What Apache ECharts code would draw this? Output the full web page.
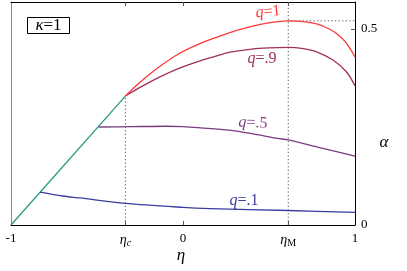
<!DOCTYPE html>
<html><head><meta charset="utf-8">
<script src="https://cdn.jsdelivr.net/npm/echarts@6/dist/echarts.min.js"></script>
<style>html,body{margin:0;padding:0;background:#fff}#c{width:407px;height:271px}</style>
</head><body><div id="c"></div>
<script>
const etaC = -0.335;
const etaM = 0.612;
const alphaMax = 0.521;
const xTickVals = [-1, etaC, 0, etaM, 1];
const xTickLabels = ['-1', '{e|η}{s|c}', '0', '{e|η}{m|M}', '1'];
const yTickVals = [0, 0.5];
const yTickLabels = ['0', '0.5'];

const greenEta = [-1, etaC];
const greenAlpha = [0, 0.329];
const q1Eta = [-0.335, -0.25, -0.134, -0.017, 0.099, 0.215, 0.273, 0.35, 0.45, 0.55, 0.612, 0.7, 0.777, 0.85, 0.9, 0.95, 1];
const q1Alpha = [0.329, 0.364, 0.405, 0.439, 0.463, 0.482, 0.491, 0.501, 0.512, 0.519, 0.521, 0.519, 0.513, 0.500, 0.486, 0.464, 0.429];
const q9Eta = [-0.335, -0.25, -0.134, -0.017, 0.099, 0.215, 0.273, 0.4, 0.5, 0.612, 0.7, 0.777, 0.872, 0.95, 1];
const q9Alpha = [0.329, 0.351, 0.378, 0.401, 0.419, 0.434, 0.441, 0.449, 0.452, 0.453, 0.450, 0.442, 0.421, 0.391, 0.355];
const q5Eta = [-0.49, -0.3, -0.1, 0, 0.1, 0.27, 0.4, 0.55, 0.612, 0.8, 1];
const q5Alpha = [0.250, 0.251, 0.252, 0.251, 0.248, 0.242, 0.233, 0.221, 0.217, 0.197, 0.176];
const q01Eta = [-0.831, -0.7, -0.6, -0.335, 0, 0.157, 0.612, 1];
const q01Alpha = [0.084, 0.074, 0.069, 0.055, 0.045, 0.042, 0.037, 0.032];

const zip = (a, b) => a.map((v, i) => [v, b[i]]);
const serif = 'Liberation Serif';

const chart = echarts.init(document.getElementById('c'), null, {renderer: 'canvas'});
const lineS = (data, color, w) => ({type: 'line', data, smooth: 0.3, symbol: 'none',
  lineStyle: {color, width: w || 1.3}, xAxisIndex: 0, yAxisIndex: 0, animation: false});
const dotS = (data) => ({type: 'line', data, symbol: 'none',
  lineStyle: {color: '#555', width: 1, type: [1.2, 2.4]}, animation: false});
const qLabel = (txt, color) => ({text: '{i|q}{n|' + txt + '}', align: 'center', verticalAlign: 'middle',
  rich: {i: {fontFamily: serif, fontStyle: 'italic', fontSize: 16, fill: color},
         n: {fontFamily: serif, fontSize: 16, fill: color}}});

chart.setOption({
  animation: false,
  grid: {left: 11, right: 52, top: 2, bottom: 46, show: false},
  xAxis: [
    {type: 'value', min: -1, max: 1, position: 'bottom',
     axisLine: {show: true, onZero: false, lineStyle: {color: '#000', width: 1}},
     axisTick: {show: true, inside: true, length: 4, customValues: [etaC, 0, etaM], lineStyle: {color: '#555'}},
     splitLine: {show: false},
     axisLabel: {show: true, customValues: xTickVals, margin: 7, color: '#000',
       fontFamily: serif, fontSize: 13,
       formatter: (v) => { const i = xTickVals.findIndex(t => Math.abs(t - v) < 1e-6); return i >= 0 ? xTickLabels[i] : ''; },
       rich: {e: {fontFamily: serif, fontStyle: 'italic', fontSize: 14, color: '#000'},
              s: {fontFamily: serif, fontStyle: 'italic', fontSize: 10, color: '#000', padding: [6, 0, 0, 0]},
              m: {fontFamily: serif, fontSize: 10, color: '#000', padding: [6, 0, 0, 0]}}}},
    {type: 'value', min: -1, max: 1, position: 'top',
     axisLine: {show: true, onZero: false, lineStyle: {color: '#000', width: 1}},
     axisTick: {show: true, inside: true, length: 4, customValues: [etaC, 0, etaM], lineStyle: {color: '#555'}},
     splitLine: {show: false}, axisLabel: {show: false}}
  ],
  yAxis: [
    {type: 'value', min: 0, max: 0.569, position: 'right',
     axisLine: {show: true, onZero: false, lineStyle: {color: '#000', width: 1}},
     axisTick: {show: true, inside: true, length: 4, customValues: [0.5], lineStyle: {color: '#555'}},
     splitLine: {show: false},
     axisLabel: {show: true, customValues: yTickVals, margin: 6, color: '#000', fontFamily: serif, fontSize: 13,
       formatter: (v) => { const i = yTickVals.findIndex(t => Math.abs(t - v) < 1e-6); return i >= 0 ? yTickLabels[i] : ''; }}},
    {type: 'value', min: 0, max: 0.569, position: 'left',
     axisLine: {show: true, onZero: false, lineStyle: {color: '#888', width: 1}},
     axisTick: {show: false}, splitLine: {show: false}, axisLabel: {show: false}}
  ],
  series: [
    dotS([[etaC, 0], [etaC, greenAlpha[1]]]),
    dotS([[etaM, 0], [etaM, 0.569]]),
    dotS([[etaM, alphaMax], [1, alphaMax]]),
    lineS(zip(greenEta, greenAlpha), '#2a9a78'),
    lineS(zip(q01Eta, q01Alpha), '#3c3ca0'),
    lineS(zip(q5Eta, q5Alpha), '#7b3a80'),
    lineS(zip(q9Eta, q9Alpha), '#a03060'),
    lineS(zip(q1Eta, q1Alpha), '#ff3838')
  ],
  graphic: [
    {type: 'rect', shape: {x: 27.5, y: 17.5, width: 42, height: 16}, style: {fill: '#fff', stroke: '#000', lineWidth: 1}},
    {type: 'text', x: 48.5, y: 25.5, style: {text: '{i|κ}{n|=1}', align: 'center', verticalAlign: 'middle',
      rich: {i: {fontFamily: serif, fontStyle: 'italic', fontSize: 17, fill: '#000'}, n: {fontFamily: serif, fontSize: 17, fill: '#000'}}}},
    {type: 'text', x: 268, y: 12, rotation: 0.09, style: qLabel('=1', '#ff3838')},
    {type: 'text', x: 262, y: 59, style: qLabel('=.9', '#a03060')},
    {type: 'text', x: 253, y: 123, rotation: -0.04, style: qLabel('=.5', '#7b3a80')},
    {type: 'text', x: 244, y: 201, style: qLabel('=.1', '#3c3ca0')},
    {type: 'text', x: 181, y: 256, style: {text: 'η', align: 'center', verticalAlign: 'middle',
      fontFamily: serif, fontStyle: 'italic', fontSize: 17, fill: '#000'}},
    {type: 'text', x: 384, y: 143, style: {text: 'α', align: 'center', verticalAlign: 'middle',
      fontFamily: serif, fontStyle: 'italic', fontSize: 17, fill: '#000'}}
  ]
});
</script></body></html>
